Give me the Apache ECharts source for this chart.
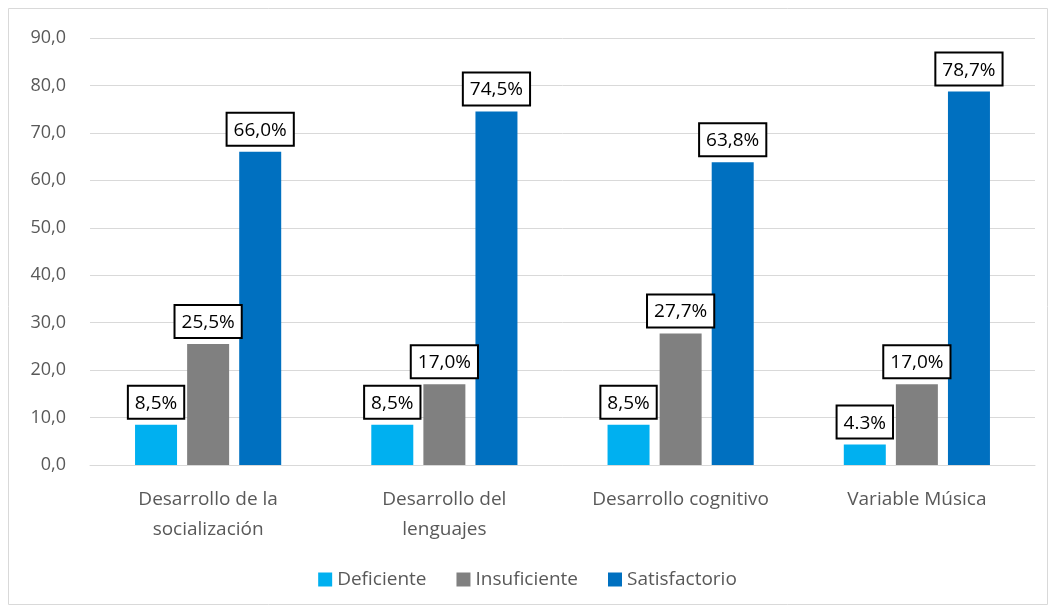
<!DOCTYPE html>
<html>
<head>
<meta charset="utf-8">
<script src="https://cdn.jsdelivr.net/npm/echarts@6/dist/echarts.min.js"></script>
<style>
html,body{margin:0;padding:0;background:#fff;}
#chart{width:1055px;height:612px;}
</style>
</head>
<body>
<div id="chart"></div>
<script>
var categories = ['Desarrollo de la\nsocialización', 'Desarrollo del\nlenguajes', 'Desarrollo cognitivo', 'Variable Música'];
var deficiente = [8.5, 8.5, 8.5, 4.3];
var insuficiente = [25.5, 17.0, 27.7, 17.0];
var satisfactorio = [66.0, 74.5, 63.8, 78.7];
var deficienteLabels = ['8,5%', '8,5%', '8,5%', '4.3%'];
var insuficienteLabels = ['25,5%', '17,0%', '27,7%', '17,0%'];
var satisfactorioLabels = ['66,0%', '74,5%', '63,8%', '78,7%'];

var font = 'Open Sans';

function boxLabel(texts){
    return {
        show: true,
        position: 'top',
        distance: 7,
        color: '#000',
        fontFamily: font,
        fontSize: 19,
        backgroundColor: '#fff',
        borderColor: '#000',
        borderWidth: 2,
        padding: [7, 6, 5, 6],
        formatter: function(p){ return texts[p.dataIndex]; }
    };
}

var myChart = echarts.init(document.getElementById('chart'));
var option = {
    animation: false,
    graphic: [{
        type: 'rect',
        shape: {x: 8.5, y: 8.5, width: 1039, height: 596},
        style: {fill: 'none', stroke: '#d9d9d9', lineWidth: 1},
        z: -1
    }],
    color: ['#00b0f0', '#808080', '#0070c0'],
    grid: {left: 90, right: 20, top: 38, bottom: 147},
    legend: {
        bottom: 18,
        itemWidth: 14,
        itemHeight: 14,
        itemGap: 30,
        icon: 'rect',
        textStyle: {color: '#595959', fontFamily: font, fontSize: 19}
    },
    xAxis: {
        type: 'category',
        data: categories,
        axisLine: {lineStyle: {color: '#d9d9d9', width: 1}},
        axisTick: {show: false},
        axisLabel: {color: '#595959', fontFamily: font, fontSize: 19, margin: 20, lineHeight: 30}
    },
    yAxis: {
        type: 'value',
        min: 0,
        max: 90,
        interval: 10,
        axisLine: {show: false},
        axisTick: {show: false},
        splitLine: {lineStyle: {color: '#d9d9d9', width: 1}},
        axisLabel: {
            color: '#595959', fontFamily: font, fontSize: 18, margin: 24,
            formatter: function(v){ return v.toFixed(1).replace('.', ','); }
        }
    },
    series: [
        {name: 'Deficiente', type: 'bar', data: deficiente, barWidth: 42, barGap: '24%', label: boxLabel(deficienteLabels)},
        {name: 'Insuficiente', type: 'bar', data: insuficiente, barWidth: 42, barGap: '24%', label: boxLabel(insuficienteLabels)},
        {name: 'Satisfactorio', type: 'bar', data: satisfactorio, barWidth: 42, barGap: '24%', label: boxLabel(satisfactorioLabels)}
    ]
};
myChart.setOption(option);
</script>
</body>
</html>
